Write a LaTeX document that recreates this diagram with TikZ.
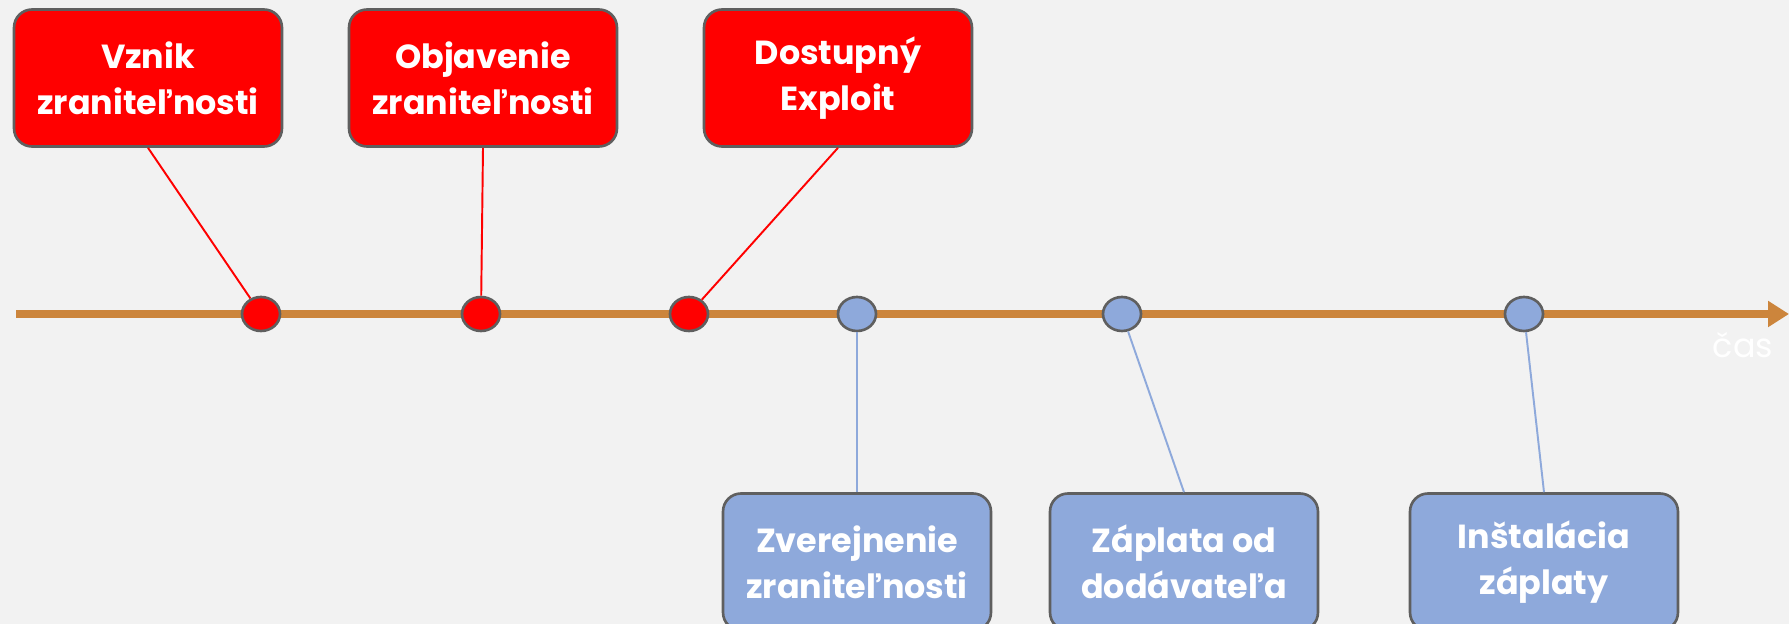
\documentclass[tikz,border=0pt]{standalone}
\usepackage{fontspec}
\setmainfont{Poppins}
\usepackage{tikz}
\usetikzlibrary{shapes.geometric, arrows.meta, positioning}
\definecolor{alarmred}{RGB}{255,0,0}
\definecolor{patchblue}{RGB}{142,169,219}
\definecolor{axisbrown}{RGB}{204,133,60}
\definecolor{edgegray}{RGB}{95,95,95}
\definecolor{paper}{RGB}{242,242,242}
\tikzstyle{redbox} = [rectangle, rounded corners=0.36cm, minimum width=5.36cm, minimum height=2.74cm, align=center, draw=edgegray, line width=1.5pt, fill=alarmred, text=white, font=\fontsize{19}{26}\selectfont\bfseries]
\tikzstyle{bluebox} = [redbox, fill=patchblue]
\tikzstyle{reddot} = [ellipse, minimum width=0.76cm, minimum height=0.68cm, inner sep=0pt, draw=edgegray, line width=1.5pt, fill=alarmred]
\tikzstyle{bluedot} = [reddot, fill=patchblue]
\tikzstyle{redline} = [alarmred, line width=1.1pt]
\tikzstyle{blueline} = [patchblue, line width=1.1pt]
\tikzstyle{timeline} = [axisbrown, line width=4.5pt, -{Triangle[length=0.42cm,width=0.5cm]}]

\begin{document}
\begin{tikzpicture}[x=0.02cm, y=-0.02cm]
        % background
        \fill[paper] (0,0) rectangle (1789,624);
        \useasboundingbox (0,0) rectangle (1789,624);

        % time axis
        \coordinate (Start) at (16,314);
        \coordinate (End) at (1789,314);
        \draw[timeline] (Start) -- (End);
        \node[white, font=\fontsize{19}{24}\selectfont, anchor=base] (Cas) at (1743,358) {čas};

        % vulnerability
        \node[reddot] (VznikDot) at (261,314) {};
        \node[reddot] (ObjavenieDot) at (481,314) {};
        \node[reddot] (ExploitDot) at (689,314) {};
        \node[redbox] (Vznik) at (148,78) {Vznik\\zraniteľnosti};
        \node[redbox] (Objavenie) at (483,78) {Objavenie\\zraniteľnosti};
        \node[redbox] (Exploit) at (838,78) {Dostupný\\Exploit};
        \draw[redline] (Vznik.south) -- (VznikDot);
        \draw[redline] (Objavenie.south) -- (ObjavenieDot);
        \draw[redline] (Exploit.south) -- (ExploitDot);

        % patch
        \node[bluedot] (ZverejnenieDot) at (857,314) {};
        \node[bluedot] (ZaplataDot) at (1122,314) {};
        \node[bluedot] (InstalaciaDot) at (1524,314) {};
        \node[bluebox] (Zverejnenie) at (857,562) {Zverejnenie\\zraniteľnosti};
        \node[bluebox] (Zaplata) at (1184,562) {Záplata od\\dodávateľa};
        \node[bluebox] (Instalacia) at (1544,562) {Inštalácia\\záplaty};
        \draw[blueline] (ZverejnenieDot) -- (Zverejnenie.north);
        \draw[blueline] (ZaplataDot) -- (Zaplata.north);
        \draw[blueline] (InstalaciaDot) -- (Instalacia.north);
\end{tikzpicture}
\end{document}
